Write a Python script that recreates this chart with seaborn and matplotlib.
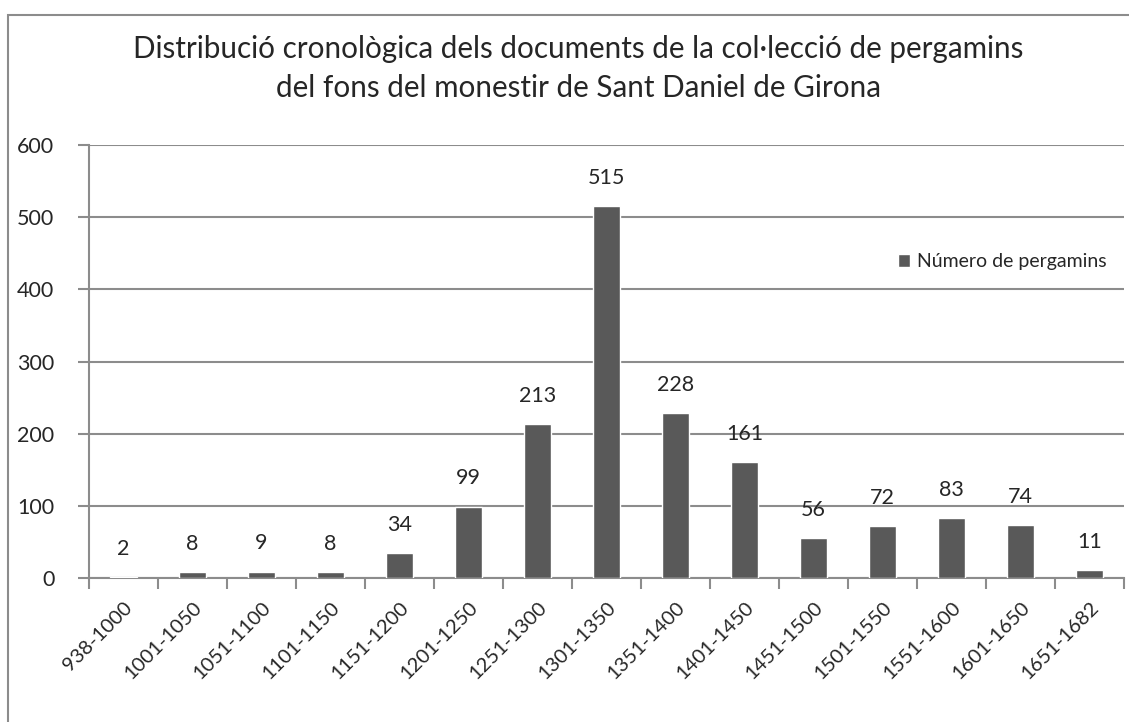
import pandas as pd
import numpy as np
import matplotlib.pyplot as plt
import matplotlib.patches as mpatches
import seaborn as sns

periods = ['938-1000', '1001-1050', '1051-1100', '1101-1150', '1151-1200',
           '1201-1250', '1251-1300', '1301-1350', '1351-1400', '1401-1450',
           '1451-1500', '1501-1550', '1551-1600', '1601-1650', '1651-1682']
counts = [2, 8, 9, 8, 34, 99, 213, 515, 228, 161, 56, 72, 83, 74, 11]
y_ticks = [0, 100, 200, 300, 400, 500, 600]

df = pd.DataFrame({'Període': periods, 'Número de pergamins': counts})

sns.set_theme(style='white')
plt.rcParams['font.family'] = ['Lato', 'DejaVu Sans']

bar_color = '#595959'
grid_color = '#8c8c8c'

fig = plt.figure(figsize=(11.29, 7.22), dpi=100)
ax = fig.add_axes([89 / 1129, 1 - 578 / 722, (1124 - 89) / 1129, (578 - 145) / 722])

sns.barplot(data=df, x='Període', y='Número de pergamins', color=bar_color,
            width=0.4, saturation=1, ax=ax, label='Número de pergamins', zorder=3)

ax.set_ylim(0, 600)
ax.set_xlim(-0.5, len(periods) - 0.5)
ax.set_yticks(y_ticks)
ax.set_yticklabels([str(v) for v in y_ticks], fontsize=15.5)
ax.yaxis.grid(True, color=grid_color, linewidth=1.5, zorder=0)
ax.set_axisbelow(True)

# ticks between categories, labels on category centres
ax.set_xticks(np.arange(-0.5, len(periods), 1.0))
ax.set_xticklabels([])
ax.set_xticks(np.arange(len(periods)), minor=True)
ax.set_xticklabels(periods, minor=True, rotation=45, ha='right',
                   rotation_mode='anchor', fontsize=14.5)
ax.tick_params(axis='x', which='major', direction='out', length=8, width=1.5,
               color=grid_color, bottom=True)
ax.tick_params(axis='x', which='minor', length=0, pad=15, bottom=True)
ax.tick_params(axis='y', direction='out', length=8, width=1.5, color=grid_color,
               left=True, pad=17)

for side in ['top', 'right']:
    ax.spines[side].set_visible(False)
for side in ['left', 'bottom']:
    ax.spines[side].set_color(grid_color)
    ax.spines[side].set_linewidth(1.5)

ax.set_xlabel('')
ax.set_ylabel('')

for container in ax.containers:
    ax.bar_label(container, padding=13, fontsize=15.5)

ax.legend(loc='upper left', bbox_to_anchor=(0.765, 0.79), frameon=False,
          fontsize=14, handlelength=0.6, handleheight=0.6, handletextpad=0.35)

fig.text(0.512, 1 - 68.5 / 722,
         'Distribució cronològica dels documents de la col·lecció de pergamins\n'
         'del fons del monestir de Sant Daniel de Girona',
         ha='center', va='center', fontsize=21.3, linespacing=1.46)

border = mpatches.Rectangle((8 / 1129, -0.05), 1.1, 1.05 - 15 / 722,
                            transform=fig.transFigure, fill=False,
                            edgecolor=grid_color, linewidth=1.5)
fig.patches.append(border)

fig.savefig('out.png', dpi=100, facecolor='white')
